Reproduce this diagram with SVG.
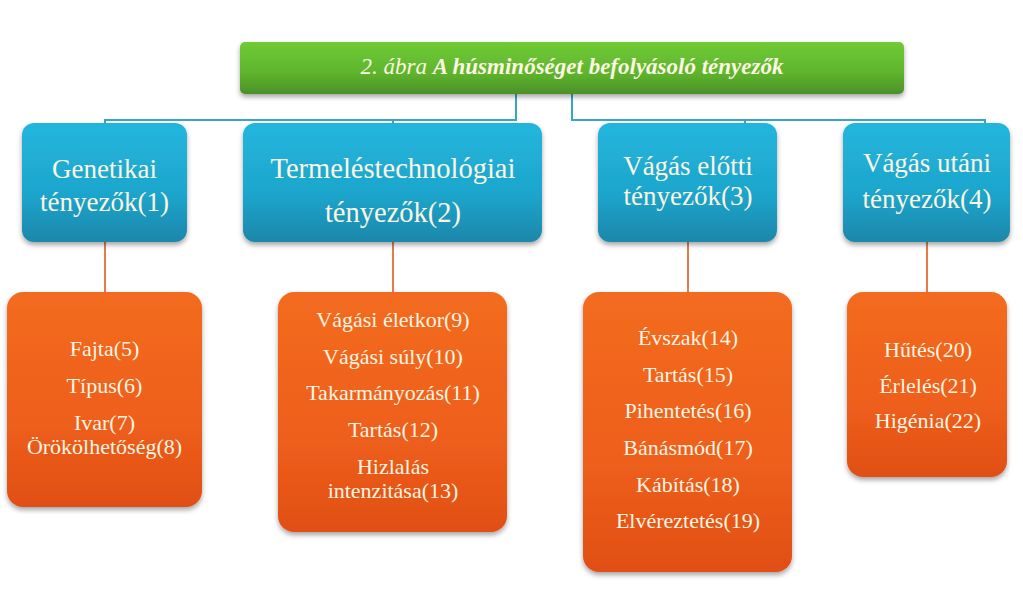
<svg xmlns="http://www.w3.org/2000/svg" width="1023" height="598" viewBox="0 0 1023 598">
<defs>
<linearGradient id="gGreen" x1="0" y1="0" x2="0" y2="1">
<stop offset="0" stop-color="#6fcb34"/><stop offset="0.6" stop-color="#5fb42d"/><stop offset="1" stop-color="#4b9128"/>
</linearGradient>
<linearGradient id="gBlue" x1="0" y1="0" x2="0" y2="1">
<stop offset="0" stop-color="#22b6dd"/><stop offset="0.6" stop-color="#1ea5cc"/><stop offset="1" stop-color="#1a87aa"/>
</linearGradient>
<linearGradient id="gOrange" x1="0" y1="0" x2="0" y2="1">
<stop offset="0" stop-color="#f36b20"/><stop offset="0.6" stop-color="#ee5f1b"/><stop offset="1" stop-color="#e14f16"/>
</linearGradient>
<filter id="sh" x="-10%" y="-10%" width="120%" height="130%">
<feDropShadow dx="0" dy="3" stdDeviation="2.5" flood-color="#000" flood-opacity="0.35"/>
</filter>
<style>
text{font-family:'Liberation Serif','DejaVu Serif',serif;fill:#fbf5e2;text-anchor:middle}
.bt{font-size:27px}
.bt2{font-size:28.5px}
.ot{font-size:22px}
.title{font-size:23px;font-style:italic}
.cb{fill:none;stroke:#3aa5c6;stroke-width:2}
.co{fill:none;stroke:#e97a45;stroke-width:2}
.blue{fill:url(#gBlue);filter:url(#sh)}
.orange{fill:url(#gOrange);filter:url(#sh)}
</style>
</defs>
<rect width="1023" height="598" fill="#ffffff"/>
<g id="connectors">
<polyline class="cb" points="516,94 516,120 105,120 105,124"/>
<line class="cb" x1="393" y1="120" x2="393" y2="124"/>
<polyline class="cb" points="572,94 572,120 985,120 985,124"/>
<line class="cb" x1="745" y1="120" x2="745" y2="124"/>
<line class="co" x1="105" y1="242" x2="105" y2="292"/>
<line class="co" x1="393" y1="242" x2="393" y2="292"/>
<line class="co" x1="688" y1="242" x2="688" y2="292"/>
<line class="co" x1="927" y1="242" x2="927" y2="292"/>
</g>
<g id="title" font-family="Liberation Serif, serif">
<rect x="240" y="42" width="664" height="52" rx="5" fill="url(#gGreen)" filter="url(#sh)"/>
<text class="title" x="572" y="74">2. ábra <tspan font-weight="bold">A húsminőséget befolyásoló tényezők</tspan></text>
</g>
<g id="n1" font-family="Liberation Serif, serif">
<rect class="blue" x="22" y="123" width="165" height="119" rx="12"/>
<text class="bt" x="104.5" y="178">Genetikai</text>
<text class="bt" x="104.5" y="211">tényezők(1)</text>
</g>
<g id="n2" font-family="Liberation Serif, serif">
<rect class="blue" x="243" y="123" width="299" height="119" rx="12"/>
<text class="bt2" x="393" y="178">Termeléstechnológiai</text>
<text class="bt2" x="393" y="222">tényezők(2)</text>
</g>
<g id="n3" font-family="Liberation Serif, serif">
<rect class="blue" x="598" y="123" width="179" height="119" rx="12"/>
<text class="bt" x="688" y="175">Vágás előtti</text>
<text class="bt" x="688" y="205">tényezők(3)</text>
</g>
<g id="n4" font-family="Liberation Serif, serif">
<rect class="blue" x="843" y="123" width="167" height="119" rx="12"/>
<text class="bt" x="927" y="172">Vágás utáni</text>
<text class="bt" x="927" y="208">tényezők(4)</text>
</g>
<g id="n5" font-family="Liberation Serif, serif">
<rect class="orange" x="7" y="292" width="195" height="215" rx="16"/>
<text class="ot" x="104.5" y="356">Fajta(5)</text>
<text class="ot" x="104.5" y="393">Típus(6)</text>
<text class="ot" x="104.5" y="430">Ivar(7)</text>
<text class="ot" x="104.5" y="454">Örökölhetőség(8)</text>
</g>
<g id="n6" font-family="Liberation Serif, serif">
<rect class="orange" x="278" y="292" width="229" height="240" rx="16"/>
<text class="ot" x="393" y="327">Vágási életkor(9)</text>
<text class="ot" x="393" y="364">Vágási súly(10)</text>
<text class="ot" x="393" y="400">Takarmányozás(11)</text>
<text class="ot" x="393" y="437">Tartás(12)</text>
<text class="ot" x="393" y="474">Hizlalás</text>
<text class="ot" x="393" y="498">intenzitása(13)</text>
</g>
<g id="n7" font-family="Liberation Serif, serif">
<rect class="orange" x="583" y="292" width="209" height="280" rx="16"/>
<text class="ot" x="688" y="345">Évszak(14)</text>
<text class="ot" x="688" y="382">Tartás(15)</text>
<text class="ot" x="688" y="418">Pihentetés(16)</text>
<text class="ot" x="688" y="455">Bánásmód(17)</text>
<text class="ot" x="688" y="492">Kábítás(18)</text>
<text class="ot" x="688" y="528">Elvéreztetés(19)</text>
</g>
<g id="n8" font-family="Liberation Serif, serif">
<rect class="orange" x="847" y="292" width="160" height="185" rx="16"/>
<text class="ot" x="928" y="357">Hűtés(20)</text>
<text class="ot" x="928" y="393">Érlelés(21)</text>
<text class="ot" x="928" y="428">Higénia(22)</text>
</g>
</svg>
